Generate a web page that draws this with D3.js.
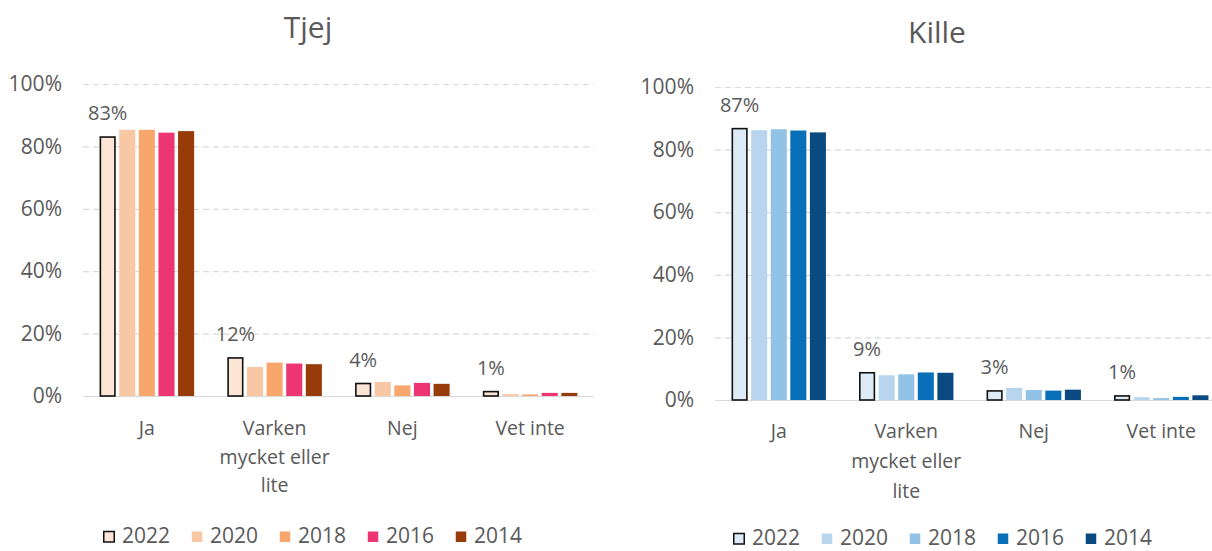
<!DOCTYPE html>
<html>
<head>
<meta charset="utf-8">
<script src="https://cdn.jsdelivr.net/npm/d3@7"></script>
<style>
  body { margin: 0; background: #fff; }
  svg text { font-family: "Open Sans", sans-serif; fill: #595959; }
</style>
</head>
<body>
<svg id="chart" width="1212" height="551"></svg>
<script>
// categories and years, shared by both panels
var categories = ['Ja', 'Varken mycket eller lite', 'Nej', 'Vet inte'];
var categoryLines = [['Ja'], ['Varken', 'mycket eller', 'lite'], ['Nej'], ['Vet inte']];
var years = ['2022', '2020', '2018', '2016', '2014'];
var yTicks = [0, 20, 40, 60, 80, 100];

// values in percent, one row per category, columns follow years
var tjejValues = [
  [83.0, 85.3, 85.3, 84.4, 84.9],
  [12.2, 9.3, 10.7, 10.4, 10.2],
  [4.0, 4.5, 3.4, 4.2, 3.9],
  [1.4, 0.6, 0.5, 1.0, 1.0]
];
var killeValues = [
  [86.7, 86.2, 86.5, 86.1, 85.5],
  [8.7, 7.9, 8.2, 8.8, 8.7],
  [2.9, 3.9, 3.2, 3.0, 3.3],
  [1.3, 0.9, 0.6, 1.0, 1.5]
];

var tjejColors = ['#fce4d6', '#f8c7a4', '#f9a66c', '#ee3573', '#973c08'];
var killeColors = ['#ddebf7', '#b7d6ee', '#92c2e6', '#0a6fb9', '#0b4a80'];

var svg = d3.select('#chart');

function drawPanel(opts) {
  var g = svg.append('g');

  var x = d3.scaleBand().domain(categories).range(opts.xRange)
    .paddingInner(0.26).paddingOuter(0.13);
  var xi = d3.scaleBand().domain(years).range([0, x.bandwidth()])
    .paddingInner(0.18).paddingOuter(0);
  var y = d3.scaleLinear().domain([0, 100]).range(opts.yRange);

  // gridlines + tick labels
  var yAxis = d3.axisLeft(y).tickValues(yTicks)
    .tickFormat(function(d){ return d + '%'; })
    .tickSizeInner(-(opts.xRange[1] - opts.xRange[0]))
    .tickSizeOuter(0)
    .tickPadding(21);
  var ya = g.append('g')
    .attr('transform', 'translate(' + opts.xRange[0] + ',0)')
    .call(yAxis);
  ya.select('.domain').remove();
  ya.selectAll('.tick line')
    .attr('stroke', '#d9d9d9')
    .attr('stroke-dasharray', function(d){ return d === 0 ? null : '6,4'; })
    .attr('stroke-width', 1.2);
  ya.selectAll('.tick text')
    .style('font-size', '21px')
    .style('fill', '#595959')
    .attr('font-family', null);

  // bars
  var groups = g.selectAll('.cat').data(categories).enter()
    .append('g')
    .attr('transform', function(d){ return 'translate(' + x(d) + ',0)'; });

  groups.each(function(cat, ci) {
    var row = opts.values[ci].map(function(v, i){ return {year: years[i], v: v, i: i}; });
    d3.select(this).selectAll('rect').data(row).enter()
      .append('rect')
      .attr('x', function(d){ return xi(d.year) + (d.i === 0 ? 0.75 : 0); })
      .attr('y', function(d){ return y(d.v); })
      .attr('width', function(d){ return xi.bandwidth() - (d.i === 0 ? 1.5 : 0); })
      .attr('height', function(d){ return y(0) - y(d.v); })
      .attr('fill', function(d){ return opts.colors[d.i]; })
      .attr('stroke', function(d){ return d.i === 0 ? '#111' : null; })
      .attr('stroke-width', 1.6);

    // value label on the 2022 bar
    var first = row[0];
    d3.select(this).append('text')
      .attr('x', xi(first.year) + xi.bandwidth() / 2)
      .attr('y', y(first.v) - 17)
      .attr('text-anchor', 'middle')
      .style('font-size', '20px')
      .text(Math.round(first.v) + '%');
  });

  // category labels
  var xa = g.append('g');
  categories.forEach(function(cat, ci) {
    var t = xa.append('text')
      .attr('x', x(cat) + x.bandwidth() / 2)
      .attr('y', y(0) + opts.catOffset)
      .attr('text-anchor', 'middle')
      .style('font-size', '19.5px');
    categoryLines[ci].forEach(function(line, li) {
      t.append('tspan')
        .attr('x', x(cat) + x.bandwidth() / 2)
        .attr('dy', li === 0 ? 0 : opts.lineGap)
        .text(line);
    });
  });

  // title
  g.append('text')
    .attr('x', opts.titleX)
    .attr('y', opts.titleY)
    .attr('text-anchor', 'middle')
    .style('font-size', '30px')
    .text(opts.title);

  // legend
  var lg = g.append('g').attr('transform', 'translate(' + opts.legendX + ',' + opts.legendY + ')');
  var items = lg.selectAll('g').data(years).enter()
    .append('g')
    .attr('transform', function(d, i){ return 'translate(' + (i * 88) + ',0)'; });
  items.append('rect')
    .attr('x', 0.75).attr('y', -11.5)
    .attr('width', 10.5).attr('height', 10.5)
    .attr('fill', function(d, i){ return opts.colors[i]; })
    .attr('stroke', function(d, i){ return i === 0 ? '#111' : null; })
    .attr('stroke-width', 1.5);
  items.append('text')
    .attr('x', 19)
    .attr('y', 0)
    .style('font-size', '21px')
    .text(function(d){ return d; });
}

drawPanel({
  title: 'Tjej', titleX: 308, titleY: 38,
  values: tjejValues, colors: tjejColors,
  xRange: [83, 594], yRange: [396, 84],
  catOffset: 39, lineGap: 28.5,
  legendX: 103, legendY: 543
});

drawPanel({
  title: 'Kille', titleX: 937, titleY: 43,
  values: killeValues, colors: killeColors,
  xRange: [715, 1225], yRange: [400, 87],
  catOffset: 38, lineGap: 30,
  legendX: 733, legendY: 545
});
</script>
</body>
</html>
